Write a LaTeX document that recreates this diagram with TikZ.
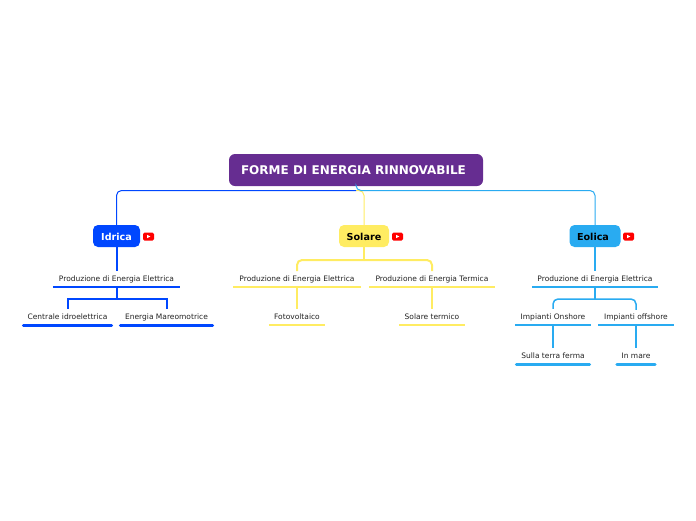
\documentclass[tikz,border=0pt]{standalone}
\usepackage{fontspec}
\setmainfont{DejaVu Sans}
\definecolor{cPurple}{HTML}{662D91}
\definecolor{cBlue}{HTML}{0047FF}
\definecolor{cYellow}{HTML}{FFEC62}
\definecolor{cCyan}{HTML}{29ABF1}
\definecolor{cText}{HTML}{222222}
\tikzset{
 main/.style={fill=#1,rounded corners=5pt,minimum height=22pt,inner sep=0pt,font=\fontsize{9.6}{11}\selectfont\bfseries,text height=9pt,text depth=1pt},
 topic/.style={inner sep=0pt,text=cText,font=\fontsize{7.5}{9}\selectfont,text height=5.5pt,text depth=1.5pt},
 low/.style={text height=6.5pt,text depth=1pt},
 yt/.style={fill=red,rounded corners=1.5pt,minimum width=11pt,minimum height=8pt,inner sep=0pt},
 tri/.style={fill=white},
 conn/.style={line width=#1,rounded corners=5pt},
 conn/.default=1pt
}
\begin{document}
\begin{tikzpicture}[x=1pt,y=-1pt]
\useasboundingbox (0,0) rectangle (696,520);
% root
\node[fill=cPurple,rounded corners=6pt,minimum width=254pt,minimum height=32pt,inner sep=0pt,text=white,font=\fontsize{12}{14}\selectfont\bfseries] (root) at (356,170) {FORME DI ENERGIA RINNOVABILE\kern5pt};
% main topics
\node[main=cBlue,text=white,minimum width=47pt] (idrica) at (116.5,236) {Idrica};
\node[main=cYellow,text=black,minimum width=50pt] (solare) at (364,236) {Solare};
\node[main=cCyan,text=black,minimum width=51pt] (eolica) at (595,236) {Eolica\kern4pt};
% youtube icons
\foreach \n/\x in {y1/148.5,y2/397.5,y3/628.5}{
  \node[yt] (\n) at (\x,236.5) {};
  \fill[tri] ([shift={(-1.3,-1.6)}]\n.center) -- ([shift={(1.8,0)}]\n.center) -- ([shift={(-1.3,1.6)}]\n.center) -- cycle;
}
% Idrica branch
\node[topic,low,minimum width=127pt,minimum height=15.5pt] (a1) at (116.5,279) {Produzione di Energia Elettrica};
\node[topic,minimum width=91pt,minimum height=16.5pt] (a2) at (67.5,317.25) {Centrale idroelettrica};
\node[topic,minimum width=95pt,minimum height=16.5pt] (a3) at (166.5,317.25) {Energia Mareomotrice};
% Solare branch
\node[topic,low,minimum width=127pt,minimum height=15.5pt] (b1) at (297,279) {Produzione di Energia Elettrica};
\node[topic,low,minimum width=126pt,minimum height=15.5pt] (b2) at (432,279) {Produzione di Energia Termica};
\node[topic,minimum width=56pt,minimum height=16pt] (b3) at (297,317) {Fotovoltaico};
\node[topic,minimum width=65pt,minimum height=16pt] (b4) at (432,317) {Solare termico};
% Eolica branch
\node[topic,low,minimum width=126pt,minimum height=15.5pt] (c1) at (595,279) {Produzione di Energia Elettrica};
\node[topic,minimum width=76pt,minimum height=16pt] (c2) at (553,317) {Impianti Onshore};
\node[topic,minimum width=75pt,minimum height=15pt] (c3) at (636,317.5) {Impianti offshore};
\node[topic,minimum width=76pt,minimum height=16pt] (c4) at (553,356) {Sulla terra ferma};
\node[topic,minimum width=41pt,minimum height=16pt] (c5) at (636,356) {In mare};
% underlines
\foreach \n in {a1}{\draw[cBlue,line width=1.5pt] (\n.south west) -- (\n.south east);}
\foreach \n in {a2,a3}{\draw[cBlue,line width=3pt,line cap=round] ([xshift=1.5pt]\n.south west) -- ([xshift=-1.5pt]\n.south east);}
\foreach \n in {b1,b2,b3,b4}{\draw[cYellow,line width=1.5pt] (\n.south west) -- (\n.south east);}
\foreach \n in {c1,c2,c3}{\draw[cCyan,line width=1.5pt] (\n.south west) -- (\n.south east);}
\foreach \n in {c4,c5}{\draw[cCyan,line width=3pt,line cap=round] ([xshift=1.5pt]\n.south west) -- ([xshift=-1.5pt]\n.south east);}
% root connectors
\coordinate (rootlow) at (356,190.5);
\draw[conn,cYellow] (rootlow) -| (solare.north);
\draw[conn,cCyan] (root.south) -- (rootlow) -| (eolica.north);
\draw[conn,cBlue] (rootlow) -| (idrica.north);
% Idrica connectors
\draw[cBlue,line width=2pt] (idrica.south) -- (a1.north);
\coordinate (abus) at (116.5,298.5);
\draw[cBlue,line width=2pt] (a1.south) -- (abus);
\draw[cBlue,line width=2pt] (abus) -| (a2.north);
\draw[cBlue,line width=2pt] (abus) -| (a3.north);
% Solare connectors
\coordinate (bbus) at (364,260);
\draw[cYellow,line width=2.5pt] (solare.south) -- (bbus);
\draw[conn=2pt,cYellow] (bbus) -| (b1.north);
\draw[conn=2pt,cYellow] (bbus) -| (b2.north);
\draw[cYellow,line width=1.5pt] (b1.south) -- (b3.north);
\draw[cYellow,line width=1.5pt] (b2.south) -- (b4.north);
% Eolica connectors
\draw[cCyan,line width=2pt] (eolica.south) -- (c1.north);
\coordinate (cbus) at (595,299);
\draw[cCyan,line width=2pt] (c1.south) -- (cbus);
\draw[conn=1.5pt,cCyan] (cbus) -| (c2.north);
\draw[conn=1.5pt,cCyan] (cbus) -| (c3.north);
\draw[cCyan,line width=1.5pt] (c2.south) -- (c4.north);
\draw[cCyan,line width=1.5pt] (c3.south) -- (c5.north);
\end{tikzpicture}
\end{document}
